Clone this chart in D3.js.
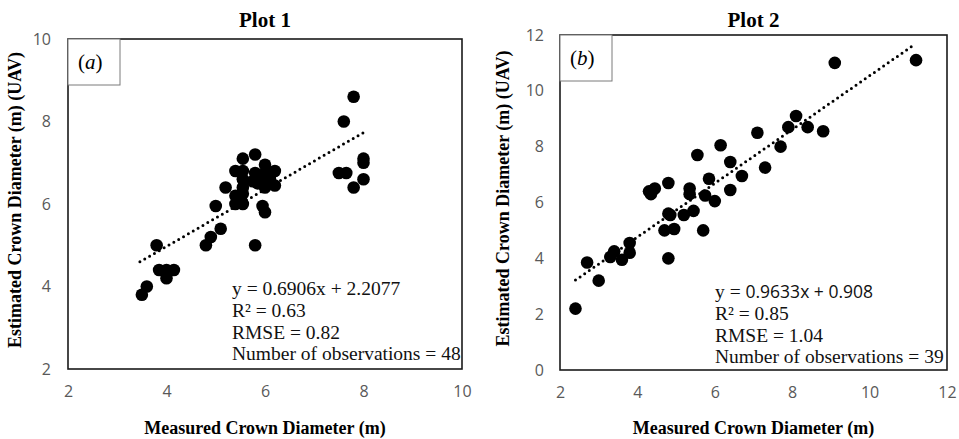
<!DOCTYPE html>
<html>
<head>
<meta charset="utf-8">
<script src="https://cdn.jsdelivr.net/npm/d3@7"></script>
<style>
  body { margin: 0; background: #fff; }
  svg { display: block; }
</style>
</head>
<body>
<div id="chart"></div>
<script>
// ---- data ----
const plot1X = [3.5, 3.6, 3.8, 3.85, 4.0, 4.15, 4.0, 4.8, 4.9, 5.1, 5.0, 5.2, 5.4, 5.55, 5.4, 5.55,
  5.4, 5.55, 5.55, 5.55, 5.55, 5.8, 5.8, 5.8, 5.85, 5.9, 6.0, 6.0, 6.0, 6.0, 6.2, 6.2,
  5.95, 6.0, 6.1, 5.75, 7.8, 7.6, 7.5, 7.65, 8.0, 8.0, 8.0, 7.8, 5.5, 6.05, 5.85, 6.1];
const plot1Y = [3.8, 4.0, 5.0, 4.4, 4.4, 4.4, 4.2, 5.0, 5.2, 5.4, 5.95, 6.4, 6.0, 6.0, 6.2, 6.25,
  6.8, 7.1, 6.8, 6.6, 6.4, 7.2, 5.0, 6.75, 6.65, 6.55, 6.95, 6.75, 6.6, 6.4, 6.8, 6.45,
  5.95, 5.8, 6.7, 6.55, 8.6, 8.0, 6.75, 6.75, 7.1, 7.0, 6.6, 6.4, 6.1, 6.65, 6.5, 6.6];

const plot2X = [2.4, 2.7, 3.0, 3.3, 3.4, 3.6, 3.8, 3.8, 4.3, 4.35, 4.45, 4.8, 4.8, 4.7, 4.95, 4.8,
  5.2, 5.35, 5.35, 5.45, 5.55, 5.7, 5.75, 5.85, 6.0, 6.15, 6.4, 6.4, 6.7, 7.1, 7.3, 7.7,
  7.9, 8.1, 8.4, 8.8, 9.1, 11.2, 4.85];
const plot2Y = [2.2, 3.85, 3.2, 4.05, 4.25, 3.95, 4.55, 4.2, 6.4, 6.3, 6.5, 6.7, 5.6, 5.0, 5.05, 4.0,
  5.55, 6.5, 6.3, 5.7, 7.7, 5.0, 6.25, 6.85, 6.05, 8.05, 7.45, 6.45, 6.95, 8.5, 7.25, 8.0,
  8.7, 9.1, 8.7, 8.55, 11.0, 11.1, 5.55];

const plot1Ticks = [2, 4, 6, 8, 10];
const plot2XTicks = [2, 4, 6, 8, 10, 12];
const plot2YTicks = [0, 2, 4, 6, 8, 10, 12];

// trend lines: slope, intercept, x start, x end
const trend1 = [0.6906, 2.2077, 3.46, 8.0];
const trend2 = [0.9633, 0.908, 2.4, 11.1];

const stats1 = ["y = 0.6906x + 2.2077", "R² = 0.63", "RMSE = 0.82", "Number of observations = 48"];
const stats2 = ["y = |0.9633x + 0.908", "R² = 0.85", "RMSE = 1.04", "Number of observations = 39"];

const titles = ["Plot 1", "Plot 2"];
const panelTags = ["a", "b"];
const xTitle = "Measured Crown Diameter (m)";
const yTitle = "Estimated Crown Diameter (m) (UAV)";

// ---- drawing ----
const W = 959, H = 439;
const svg = d3.select("#chart").append("svg")
  .attr("width", W).attr("height", H);

function drawPanel(opt) {
  const x = d3.scaleLinear().domain(opt.xDomain).range([opt.left, opt.right]);
  const y = d3.scaleLinear().domain(opt.yDomain).range([opt.bottom, opt.top]);
  const g = svg.append("g");
  const serif = "'Liberation Serif', 'Times New Roman', serif";

  const styleTicks = a => a.selectAll(".tick text")
    .attr("font-family", "'Open Sans', sans-serif")
    .attr("font-size", 16)
    .attr("fill", "#595959");

  // axes labels only, Excel style (no tick marks)
  g.append("g")
    .attr("transform", `translate(0,${opt.bottom})`)
    .call(d3.axisBottom(x).tickValues(opt.xTicks).tickSize(0).tickPadding(17))
    .call(a => a.select(".domain").remove())
    .call(styleTicks);
  g.append("g")
    .attr("transform", `translate(${opt.left},0)`)
    .call(d3.axisLeft(y).tickValues(opt.yTicks).tickSize(0).tickPadding(opt.yPad))
    .call(a => a.select(".domain").remove())
    .call(styleTicks);

  // frame
  g.append("rect")
    .attr("x", opt.left).attr("y", opt.top)
    .attr("width", opt.right - opt.left).attr("height", opt.bottom - opt.top)
    .attr("fill", "none").attr("stroke", "#1a1a1a").attr("stroke-width", 1.6);

  // panel tag box
  g.append("rect")
    .attr("x", opt.left).attr("y", opt.top)
    .attr("width", 52).attr("height", 46)
    .attr("fill", "#fff").attr("stroke", "#7a7a7a").attr("stroke-width", 1);
  const tag = g.append("text")
    .attr("x", opt.left + 10).attr("y", opt.top + 30)
    .attr("font-family", serif).attr("font-size", 21);
  tag.append("tspan").text("(");
  tag.append("tspan").attr("font-style", "italic").text(opt.tag);
  tag.append("tspan").text(")");

  // trend line
  const t = opt.trend;
  g.append("line")
    .attr("x1", x(t[2])).attr("y1", y(t[0] * t[2] + t[1]))
    .attr("x2", x(t[3])).attr("y2", y(t[0] * t[3] + t[1]))
    .attr("stroke", "#000").attr("stroke-width", 3)
    .attr("stroke-dasharray", "0,5.6").attr("stroke-linecap", "round");

  // points
  g.append("g").selectAll("circle")
    .data(opt.xs.map((v, i) => [v, opt.ys[i]]))
    .join("circle")
    .attr("cx", d => x(d[0])).attr("cy", d => y(d[1]))
    .attr("r", 6.3).attr("fill", "#000");

  // stats text
  opt.stats.forEach((s, i) => {
    const tx = g.append("text")
      .attr("x", opt.statX).attr("y", opt.statY + i * 21.8)
      .attr("font-family", serif).attr("font-size", 19.5).attr("fill", "#111");
    if (s.includes("|")) {
      const parts = s.split("|");
      tx.append("tspan").text(parts[0]);
      tx.append("tspan").attr("font-family", "'Open Sans', sans-serif").attr("font-size", 17.5).text(parts[1]);
    } else {
      tx.text(s);
    }
  });

  const cx = (opt.left + opt.right) / 2;
  // title
  g.append("text")
    .attr("x", cx).attr("y", 27)
    .attr("text-anchor", "middle")
    .attr("font-family", serif).attr("font-weight", "bold").attr("font-size", 21)
    .text(opt.title);
  // x title
  g.append("text")
    .attr("x", cx).attr("y", 434)
    .attr("text-anchor", "middle")
    .attr("font-family", serif).attr("font-weight", "bold").attr("font-size", 18)
    .text(xTitle);
  // y title
  g.append("text")
    .attr("transform", `translate(${opt.yTitleX},${(opt.top + opt.bottom) / 2 - 4}) rotate(-90)`)
    .attr("text-anchor", "middle")
    .attr("font-family", serif).attr("font-weight", "bold").attr("font-size", 18)
    .text(yTitle);
}

drawPanel({
  left: 68, right: 462, top: 39, bottom: 369,
  xDomain: [2, 10], yDomain: [2, 10],
  xTicks: plot1Ticks, yTicks: plot1Ticks, yPad: 17,
  xs: plot1X, ys: plot1Y, trend: trend1,
  stats: stats1, statX: 232, statY: 295,
  title: titles[0], tag: panelTags[0], yTitleX: 21
});

drawPanel({
  left: 560, right: 947, top: 35, bottom: 370,
  xDomain: [2, 12], yDomain: [0, 12],
  xTicks: plot2XTicks, yTicks: plot2YTicks, yPad: 16,
  xs: plot2X, ys: plot2Y, trend: trend2,
  stats: stats2, statX: 715, statY: 298,
  title: titles[1], tag: panelTags[1], yTitleX: 509
});
</script>
</body>
</html>
